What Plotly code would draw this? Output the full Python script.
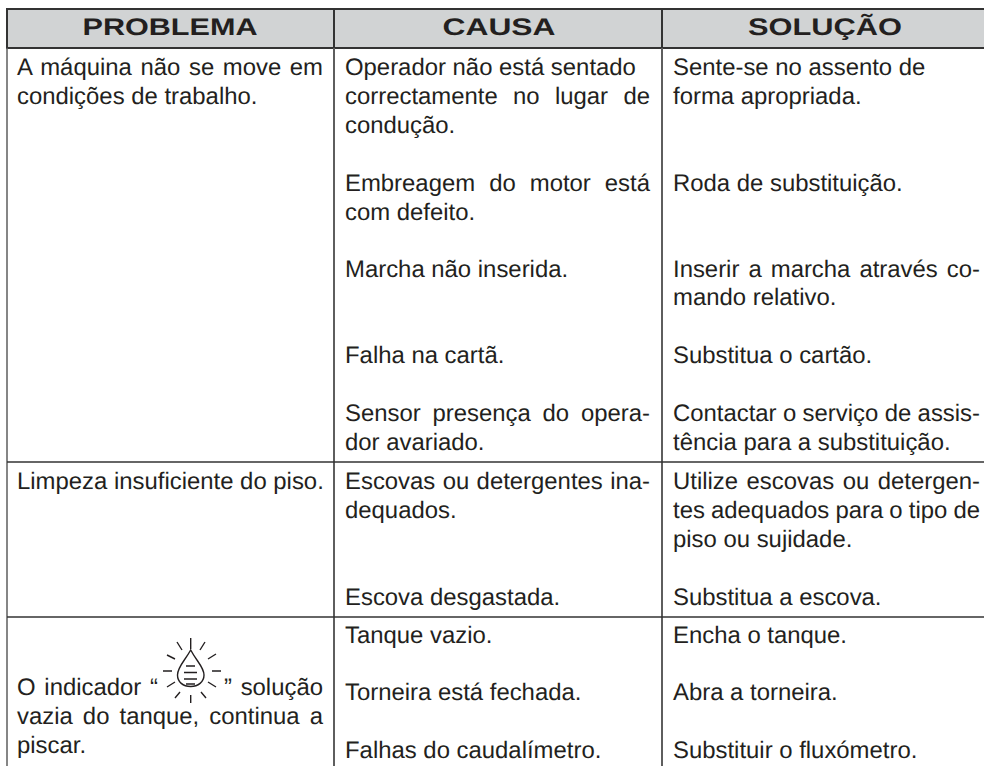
import json
import plotly.graph_objects as go

# ---- content -------------------------------------------------------------
headers = ["PROBLEMA", "CAUSA", "SOLUÇÃO"]
header_centers = [170, 499, 825]
header_widths = [175, 113, 154]

problem_lines = ["A máquina não se move em", "condições de trabalho.",
                 "Limpeza insuficiente do piso.",
                 "O indicador “", "” solução",
                 "vazia do tanque, continua a", "piscar."]
problem_base = [77, 106, 491, 697, 697, 726, 755]
problem_left = [17, 17, 17, 17, 224, 17, 17]

cause_lines = ["Operador não está sentado", "correctamente no lugar de", "condução.",
               "Embreagem do motor está", "com defeito.",
               "Marcha não inserida.",
               "Falha na cartã.",
               "Sensor presença do opera-", "dor avariado.",
               "Escovas ou detergentes ina-", "dequados.",
               "Escova desgastada.",
               "Tanque vazio.", "Torneira está fechada.", "Falhas do caudalímetro."]
cause_base = [77, 106, 135, 193, 222, 279, 365, 423, 452, 491, 520, 607, 645, 702, 760]

solution_lines = ["Sente-se no assento de", "forma apropriada.",
                  "Roda de substituição.",
                  "Inserir a marcha através co-", "mando relativo.",
                  "Substitua o cartão.",
                  "Contactar o serviço de assis-", "tência para a substituição.",
                  "Utilize escovas ou detergen-", "tes adequados para o tipo de", "piso ou sujidade.",
                  "Substitua a escova.",
                  "Encha o tanque.", "Abra a torneira.", "Substituir o fluxómetro."]
solution_base = [77, 106, 193, 279, 307, 365, 423, 452, 491, 520, 549, 607, 645, 702, 760]

# Lines set flush to both margins: text -> width of the justified line
justified = {
    "A máquina não se move em": 306, "vazia do tanque, continua a": 306,
    "O indicador “": 141, "” solução": 99,
    "correctamente no lugar de": 305, "Embreagem do motor está": 305,
    "Sensor presença do opera-": 305, "Escovas ou detergentes ina-": 305,
    "Inserir a marcha através co-": 307, "Contactar o serviço de assis-": 307,
    "Utilize escovas ou detergen-": 307, "tes adequados para o tipo de": 307,
}

# ---- geometry / style -----------------------------------------------------
W, H = 984, 766
FS = 23.9
INK = "#231f20"
FONT = "Liberation Sans"
LEFT, COL2, COL3 = 7, 334, 662
HEAD_TOP, HEAD_BOT = 9, 48
ROW_RULES = [462, 617]
BASE_TO_MID = 8.0

fig = go.Figure()


def text_col(xs, lines, base):
    fig.add_trace(go.Scatter(
        x=xs, y=[b - BASE_TO_MID for b in base], text=lines,
        mode="text", textposition="middle right", hoverinfo="skip",
        textfont=dict(family=FONT, size=FS, color=INK), cliponaxis=False,
        showlegend=False))


text_col(problem_left, problem_lines, problem_base)
text_col([345] * len(cause_lines), cause_lines, cause_base)
text_col([673] * len(solution_lines), solution_lines, solution_base)

fig.add_trace(go.Scatter(
    x=header_centers, y=[29, 29, 29], text=headers, mode="text",
    textposition="middle center", hoverinfo="skip",
    textfont=dict(family=FONT, size=FS, color=INK, weight="bold"),
    cliponaxis=False, showlegend=False))

shapes = [
    dict(type="rect", x0=LEFT, x1=W + 5, y0=HEAD_TOP, y1=HEAD_BOT, fillcolor="#d1d3d4",
         line=dict(color="#333333", width=2), layer="below"),
]
for x in (COL2, COL3):
    shapes.append(dict(type="line", x0=x, x1=x, y0=HEAD_TOP, y1=HEAD_BOT,
                       line=dict(color="#333333", width=2)))
for x, w in ((LEFT, 1.5), (COL2, 2), (COL3, 2)):
    shapes.append(dict(type="line", x0=x, x1=x, y0=HEAD_BOT, y1=H + 2,
                       line=dict(color="#5e5e5e", width=w)))
for y in ROW_RULES:
    shapes.append(dict(type="line", x0=LEFT, x1=W + 2, y0=y, y1=y,
                       line=dict(color="#333333", width=1.5)))

# indicator icon: drop with level lines and rays
rays = ("M190.7 638 V649 M177 642 L182 650 M205 642 L200 650 M167 655 L175 659 "
        "M216 654 L208 659 M163 671 H172 M212 671 H221 M167 687 L175 682 "
        "M216 687 L208 682 M175 698 L180 692 M206 698 L201 692 M190.7 695 V703")
drop = ("M190.7 650 C184 662 177.5 667 177.5 675 C177.5 682 183 686.5 190.7 686.5 "
        "C198 686.5 204 682 204 675 C204 667 197 662 190.7 650 Z")
levels = "M186 666 H195 M184 672.5 H197 M184 679 H197 M186 684 H195"
for p in (rays, drop, levels):
    shapes.append(dict(type="path", path=p, line=dict(color=INK, width=1.4)))

fig.update_layout(
    width=W, height=H, margin=dict(l=0, r=0, t=0, b=0),
    paper_bgcolor="white", plot_bgcolor="white", shapes=shapes, showlegend=False,
    xaxis=dict(range=[0, W], visible=False, fixedrange=True),
    yaxis=dict(range=[H, 0], visible=False, fixedrange=True),
)

post = """
document.body.style.margin = '0';
var just = %s, heads = %s;
document.querySelectorAll('.textpoint text').forEach(function (t) {
  t.style.textRendering = 'geometricPrecision';
  var s = t.textContent;
  if (just[s] !== undefined) {
    var n = s.split(' ').length - 1;
    var sp = (just[s] - t.getComputedTextLength()) / n;
    t.style.wordSpacing = sp + 'px';
  }
  if (heads[s] !== undefined) {
    t.setAttribute('textLength', heads[s]);
    t.setAttribute('lengthAdjust', 'spacingAndGlyphs');
  }
});
""" % (json.dumps(justified, ensure_ascii=False),
       json.dumps(dict(zip(headers, header_widths)), ensure_ascii=False))

fig.write_html("out.html", post_script=post, config={"displayModeBar": False})
